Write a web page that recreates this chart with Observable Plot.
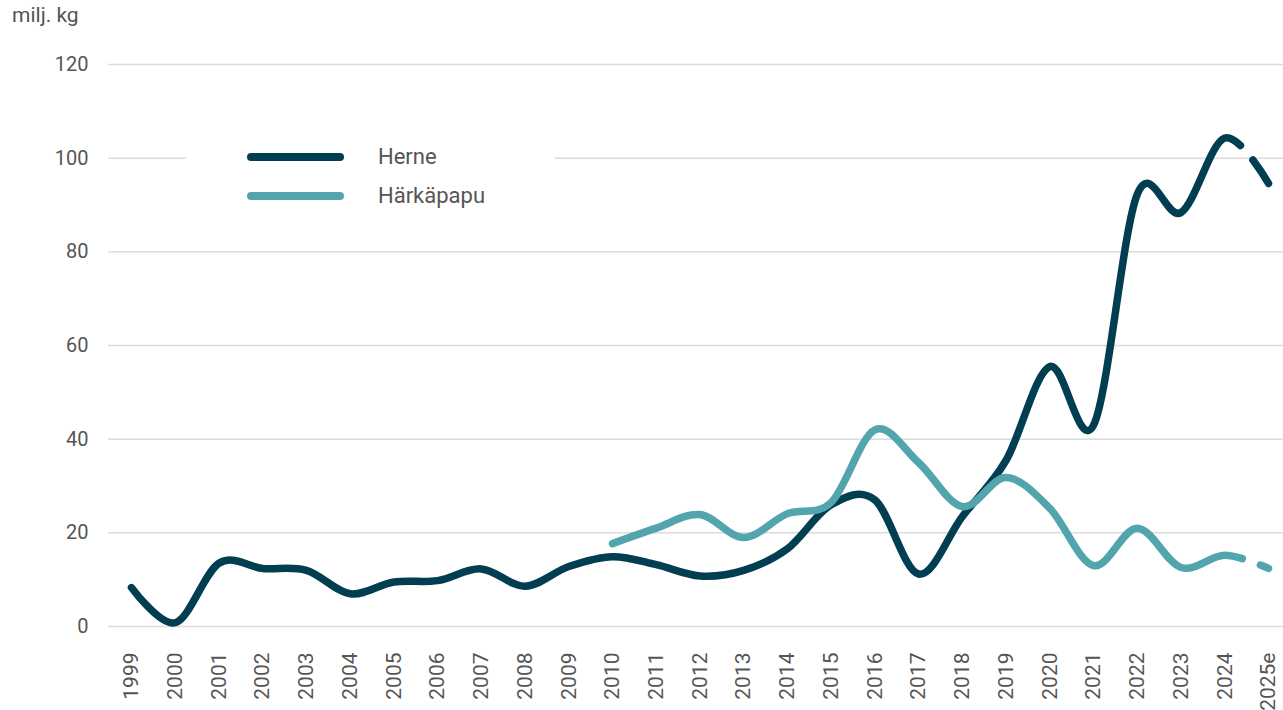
<!DOCTYPE html>
<html>
<head>
<meta charset="utf-8">
<script src="https://cdn.jsdelivr.net/npm/d3@7"></script>
<script src="https://cdn.jsdelivr.net/npm/@observablehq/plot@0.6"></script>
<style>
  body { margin: 0; background: #fff; }
  #wrap { position: relative; width: 1283px; height: 710px; overflow: hidden; font-family: Roboto, "Open Sans", sans-serif; color: #555; }
  #unit { position: absolute; left: 12px; top: 3px; font-size: 21px; color: #555; }
  #legend { position: absolute; left: 186px; top: 132px; width: 369px; height: 90px; background: #fff; }
  .sw { position: absolute; left: 61px; width: 97px; height: 8px; border-radius: 4px; }
  .lt { position: absolute; left: 192px; font-size: 22px; line-height: 24px; color: #555; }
</style>
</head>
<body>
<div id="wrap">
  <div id="chart"></div>
  <div id="unit">milj. kg</div>
  <div id="legend"></div>
</div>
<script>
const years = ["1999","2000","2001","2002","2003","2004","2005","2006","2007","2008","2009","2010","2011","2012","2013","2014","2015","2016","2017","2018","2019","2020","2021","2022","2023","2024","2025e"];
const herne = [8.3, 0.8, 13.5, 12.4, 12.0, 7.0, 9.5, 9.8, 12.3, 8.6, 12.8, 14.9, 13.2, 10.8, 12.0, 16.6, 26.0, 27.0, 11.2, 23.5, 35.5, 55.5, 43.0, 92.3, 88.4, 104.3, 94.6];
const harkapapu = [null, null, null, null, null, null, null, null, null, null, null, 17.7, 21.0, 23.9, 19.0, 24.1, 26.5, 42.0, 35.0, 25.6, 31.8, 25.2, 13.0, 21.0, 12.6, 15.2, 12.4];
const seriesNames = ["Herne", "Härkäpapu"];
const seriesColors = ["#023e52", "#52a5ad"];
const yTicks = [0, 20, 40, 60, 80, 100, 120];
const unitLabel = "milj. kg";
const estimateFrom = "2024";

const rows = [];
years.forEach((yr, i) => {
  if (herne[i] != null) rows.push({year: yr, value: herne[i], series: seriesNames[0]});
});
years.forEach((yr, i) => {
  if (harkapapu[i] != null) rows.push({year: yr, value: harkapapu[i], series: seriesNames[1]});
});

const chart = Plot.plot({
  width: 1283,
  height: 710,
  marginTop: 64,
  marginBottom: 84,
  marginLeft: 108,
  marginRight: 0,
  style: {fontFamily: "Roboto, 'Open Sans', sans-serif", fontSize: "20px", color: "#555", background: "transparent"},
  x: {type: "point", domain: years, range: [131, 1268], padding: 0, round: false},
  y: {domain: [0, 120], range: [626, 64]},
  color: {domain: seriesNames, range: seriesColors},
  marks: [
    Plot.gridY(yTicks, {stroke: "#dcdcdc", strokeOpacity: 1, strokeWidth: 1.5}),
    Plot.axisY(yTicks, {tickSize: 0, tickPadding: 20, label: null, fill: "#555", fontSize: 20}),
    Plot.axisX({tickSize: 0, tickRotate: -90, tickPadding: 26, label: null, fill: "#555", fontSize: 21}),
    Plot.line(rows, {x: "year", y: "value", z: "series", stroke: "series", curve: "cardinal",
      strokeWidth: 7.5, strokeLinecap: "round", strokeLinejoin: "round"})
  ]
});
document.getElementById("chart").appendChild(chart);

// dashed style for the estimated last segment
const xs = chart.scale("x");
const xEst = xs.apply(estimateFrom);
d3.select(chart).selectAll("g[aria-label='line'] path").each(function() {
  const total = this.getTotalLength();
  let lo = 0, hi = total;
  for (let k = 0; k < 40; k++) {
    const mid = (lo + hi) / 2;
    if (this.getPointAtLength(mid).x < xEst) lo = mid; else hi = mid;
  }
  const L = lo;
  this.setAttribute("stroke-dasharray", `${L + 17} 19 200 2000`);
});

// legend
const leg = document.getElementById("legend");
seriesNames.forEach((name, i) => {
  const sw = document.createElement("div");
  sw.className = "sw";
  sw.style.top = (21 + i * 39) + "px";
  sw.style.background = seriesColors[i];
  leg.appendChild(sw);
  const t = document.createElement("div");
  t.className = "lt";
  t.style.top = (13 + i * 39) + "px";
  t.textContent = name;
  leg.appendChild(t);
});
document.getElementById("unit").textContent = unitLabel;
</script>
</body>
</html>
